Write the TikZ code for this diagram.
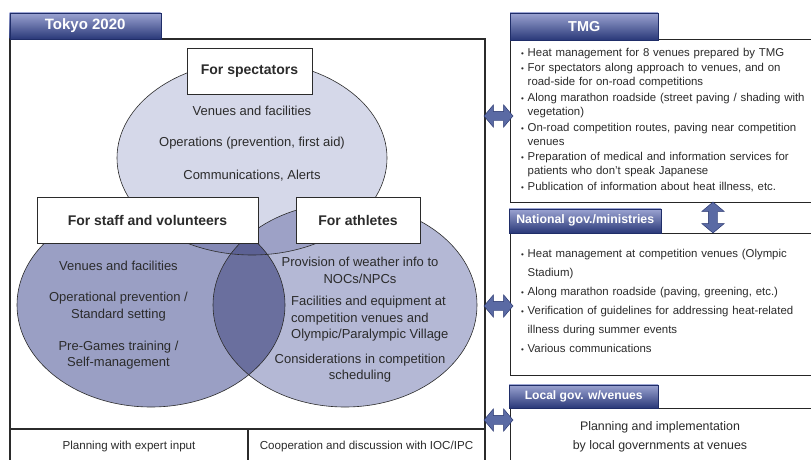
\documentclass[tikz,border=0pt]{standalone}
\usepackage{fontspec}
\setmainfont{Liberation Sans}
\usetikzlibrary{shapes.arrows,positioning,calc,backgrounds}
\definecolor{tabtop}{HTML}{9CA4D2}
\definecolor{tabbot}{HTML}{2A3979}
\definecolor{tabline}{HTML}{1F2D68}
\definecolor{specfill}{HTML}{D5D8E9}
\definecolor{stafffill}{HTML}{9A9FC4}
\definecolor{athlfill}{HTML}{B4B8D5}
\definecolor{spstfill}{HTML}{8489B5}
\definecolor{spatfill}{HTML}{9DA1C6}
\definecolor{statfill}{HTML}{6A6F9E}
\definecolor{allfill}{HTML}{5C6194}
\definecolor{arrfill}{HTML}{5A6AA4}
\definecolor{txt}{HTML}{2B2B2B}
\newcommand{\blt}[1]{\par\hangindent=6.5pt\hangafter=1\noindent\makebox[6.5pt][l]{\fontsize{8}{8}\selectfont•}#1}

\begin{document}
\begin{tikzpicture}
[x=1pt,y=-1pt,
specR/.style={x radius=135pt,y radius=97pt},
staffR/.style={x radius=134pt,y radius=102pt},
athlR/.style={x radius=132pt,y radius=102pt},
frame/.style={draw=txt,line width=1.1pt},
rbox/.style={draw=black!85,line width=1pt},
outline/.style={draw=txt,line width=0.6pt},
tab/.style={draw=tabline,top color=tabtop,bottom color=tabbot,text=white,inner sep=0pt,anchor=south west},
hdr/.style={draw=txt,fill=white,text=txt,font=\bfseries\fontsize{14}{16}\selectfont,minimum height=46pt,inner sep=0pt},
body/.style={text=txt,font=\fontsize{13}{16.5}\selectfont,align=center,inner sep=0pt},
small/.style={text=txt,font=\fontsize{11.6}{14}\selectfont,align=center,inner sep=0pt},
list/.style={text=txt,anchor=north west,inner sep=0pt,text width=290pt,align=left},
dblarr/.style={double arrow,draw=tabline,fill=arrfill,inner xsep=0pt,inner ysep=4.5pt,
  double arrow head extend=6.5pt,minimum height=29pt,double arrow tip angle=100}]
%%
\fill[white] (0,0) rectangle (811,460);
\useasboundingbox (0,0) rectangle (811,460);
%%
%%%%%%%%%%%%%%%%%%
% Venn diagram
%%%%%%%%%%%%%%%%%%
\coordinate (specC) at (252,158);
\coordinate (staffC) at (151,305);
\coordinate (athlC) at (345,305);
\fill[stafffill] (staffC) ellipse [staffR];
\fill[athlfill] (athlC) ellipse [athlR];
\fill[specfill] (specC) ellipse [specR];
%% overlaps
\begin{scope}
\clip (staffC) ellipse [staffR];
\fill[statfill] (athlC) ellipse [athlR];
\fill[spstfill] (specC) ellipse [specR];
\end{scope}
\begin{scope}
\clip (athlC) ellipse [athlR];
\fill[spatfill] (specC) ellipse [specR];
\end{scope}
\begin{scope}
\clip (staffC) ellipse [staffR];
\clip (athlC) ellipse [athlR];
\fill[allfill] (specC) ellipse [specR];
\end{scope}
\draw[outline] (staffC) ellipse [staffR];
\draw[outline] (athlC) ellipse [athlR];
\draw[outline] (specC) ellipse [specR];
%%
%% headers
\node[hdr,minimum width=125pt] (specH) at (249.5,71.5) {For spectators};
\node[hdr,minimum width=221pt] (staffH) at (147.5,220) {For staff and volunteers};
\node[hdr,minimum width=124pt] (athlH) at (358,220) {For athletes};
%%
%% spectators
\node[body] (spec1) at (252,111) {Venues and facilities};
\node[body] (spec2) at (252,143) {Operations (prevention, first aid)};
\node[body] (spec3) at (252,176) {Communications, Alerts};
%% staff and volunteers
\node[body] (staff1) at (118.5,266) {Venues and facilities};
\node[body] (staff2) at (118.5,306.5) {Operational prevention /\\Standard setting};
\node[body] (staff3) at (118.5,355) {Pre-Games training /\\Self-management};
%% athletes
\node[body] (athl1) at (360,270.5) {Provision of weather info to\\NOCs/NPCs};
\node[body,align=left,anchor=west] (athl2) at (291,319) {Facilities and equipment at\\competition venues and\\Olympic/Paralympic Village};
\node[body] (athl3) at (360,368) {Considerations in competition\\scheduling};
%%
%%%%%%%%%%%%%%%%%%
% Tokyo 2020 frame
%%%%%%%%%%%%%%%%%%
\draw[frame] (10,39) rectangle (485,475);
\draw[frame] (10,429) -- (485,429);
\draw[frame] (248,429) -- (248,475);
\node[small] (expert) at (129,446.5) {Planning with expert input};
\node[small] (ioc) at (366.5,446.5) {Cooperation and discussion with IOC/IPC};
\node[tab,minimum width=151pt,minimum height=26pt,font=\bfseries\fontsize{15}{17}\selectfont] (tokyoTab) at (9.5,39) {Tokyo 2020};
%%
%%%%%%%%%%%%%%%%%%
% Right column
%%%%%%%%%%%%%%%%%%
%% TMG
\draw[rbox] (510,40) rectangle (820,202);
\node[tab,minimum width=148pt,minimum height=27pt,font=\bfseries\fontsize{14.4}{16}\selectfont] (tmgTab) at (510,40) {TMG};
\node[list,font=\fontsize{11.4}{14}\selectfont] (tmgList) at (521,40.5) {\setlength{\parskip}{1.6pt}%
\blt{Heat management for 8 venues prepared by TMG}
\blt{For spectators along approach to venues, and on\newline road-side for on-road competitions}
\blt{Along marathon roadside (street paving / shading with\newline vegetation)}
\blt{On-road competition routes, paving near competition\newline venues}
\blt{Preparation of medical and information services for\newline patients who don't speak Japanese}
\blt{Publication of information about heat illness, etc.}\par};
%%
%% national government
\draw[rbox] (510,233) rectangle (820,375);
\node[tab,minimum width=152pt,minimum height=24pt,font=\bfseries\fontsize{12.3}{14}\selectfont] (natTab) at (509,233) {National gov./ministries};
\node[list,font=\fontsize{11.4}{19}\selectfont] (natList) at (521,238) {%
\blt{Heat management at competition venues (Olympic\newline Stadium)}
\blt{Along marathon roadside (paving, greening, etc.)}
\blt{Verification of guidelines for addressing heat-related\newline illness during summer events}
\blt{Various communications}\par};
%%
%% local governments
\draw[rbox] (510,408) rectangle (820,475);
\node[tab,minimum width=149pt,minimum height=23pt,font=\bfseries\fontsize{12.1}{14}\selectfont] (locTab) at (509,408) {Local gov. w/venues};
\node[body,font=\fontsize{12.4}{19}\selectfont] (locText) at (660,437) {Planning and implementation\\by local governments at venues};
%%
%%%%%%%%%%%%%%%%%%
% Arrows
%%%%%%%%%%%%%%%%%%
\node[dblarr] (arrTMG) at (498.5,116) {};
\node[dblarr] (arrNat) at (498.5,306) {};
\node[dblarr] (arrLoc) at (498.5,420) {};
\node[dblarr,minimum height=31pt,rotate=90] (arrTN) at (713,217.5) {};
%%
\end{tikzpicture}
\end{document}
